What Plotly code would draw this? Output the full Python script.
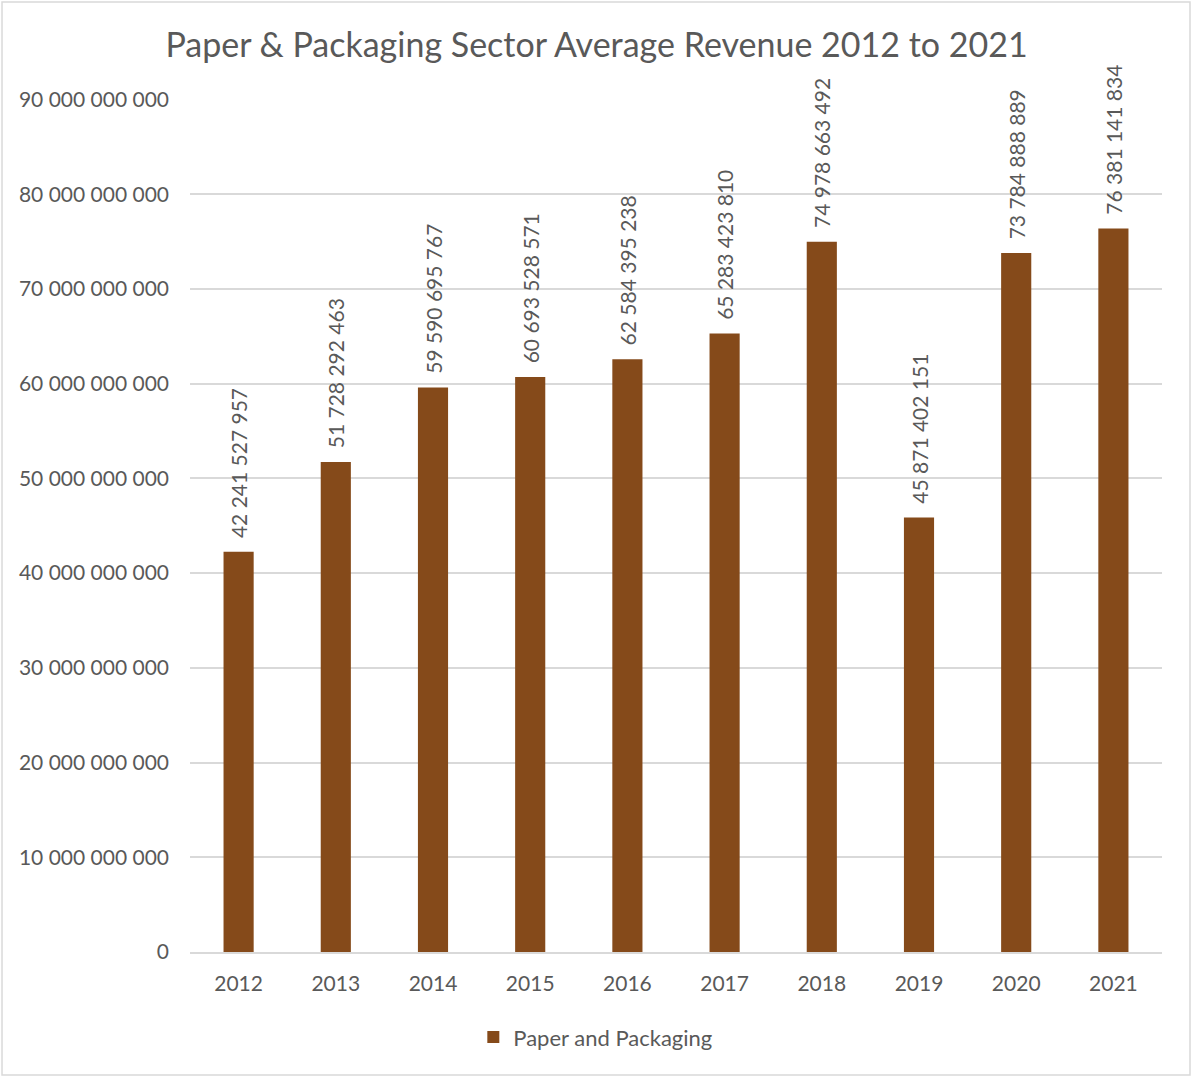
import plotly.graph_objects as go

years = ["2012", "2013", "2014", "2015", "2016", "2017", "2018", "2019", "2020", "2021"]
revenue = [42241527957, 51728292463, 59590695767, 60693528571, 62584395238,
           65283423810, 74978663492, 45871402151, 73784888889, 76381141834]
y_ticks = [0, 10e9, 20e9, 30e9, 40e9, 50e9, 60e9, 70e9, 80e9, 90e9]

FONT = "Lato"
TEXT = "#595959"
BAR = "#854A1A"

fig = go.Figure()
fig.add_trace(go.Bar(
    x=years,
    y=revenue,
    name="Paper and Packaging",
    marker=dict(color=BAR, line=dict(width=0)),
    texttemplate="\u00a0\u00a0%{y:,.0f}",
    textposition="outside",
    textangle=-90,
    constraintext="none",
    textfont=dict(family=FONT, size=21, color=TEXT),
    cliponaxis=False,
))

fig.update_layout(
    width=1193,
    height=1078,
    margin=dict(l=190, r=31, t=99, b=126, autoexpand=False),
    paper_bgcolor="white",
    plot_bgcolor="white",
    separators=". ",
    bargap=0.69,
    font=dict(family=FONT, color=TEXT),
    title=dict(
        text="Paper & Packaging Sector Average Revenue 2012 to 2021",
        x=0.5, xanchor="center", y=1 - 45 / 1078, yanchor="middle",
        font=dict(family=FONT, size=34, color=TEXT),
    ),
    showlegend=True,
    legend=dict(
        orientation="h", x=0.417, xanchor="center", y=-0.1, yanchor="middle",
        font=dict(family=FONT, size=22, color=TEXT),
    ),
    xaxis=dict(
        type="category", automargin=False,
        showline=True, linecolor="#d9d9d9", linewidth=1.5,
        ticks="", tickfont=dict(family=FONT, size=21, color=TEXT),
        ticklabelstandoff=12,
    ),
    yaxis=dict(
        range=[0, 90.05e9], automargin=False,
        tickvals=y_ticks,
        tickformat=",d",
        showgrid=True, gridcolor="#d9d9d9", gridwidth=1.5,
        zeroline=False, showline=False,
        ticks="", tickfont=dict(family=FONT, size=21, color=TEXT),
        ticklabelstandoff=20,
    ),
    shapes=[dict(
        type="rect", xref="paper", yref="paper",
        x0=-0.1934, x1=1.0288, y0=-0.1442, y1=1.1137,
        line=dict(color="#d9d9d9", width=1.5), fillcolor="rgba(0,0,0,0)",
        layer="below",
    )],
)

fig.write_html("out.html")
